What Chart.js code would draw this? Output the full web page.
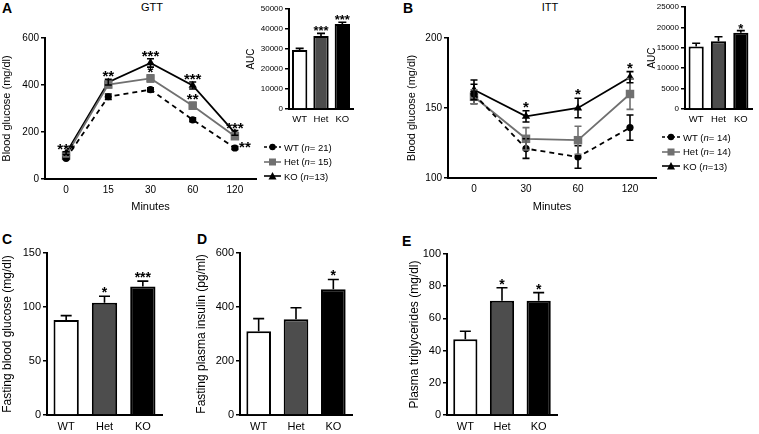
<!DOCTYPE html>
<html>
<head>
<meta charset="utf-8">
<script src="https://cdn.jsdelivr.net/npm/chart.js@4.4.1/dist/chart.umd.min.js"></script>
<style>
  body { margin: 0; background: #fff; width: 759px; height: 434px; position: relative; overflow: hidden;
         font-family: 'Liberation Sans', Arial, Helvetica, sans-serif; color: #000; }
  canvas { position: absolute; }
  .lbl { position: absolute; font-weight: bold; font-size: 14px; line-height: 1; }
  .ttl { position: absolute; font-size: 11px; line-height: 1; transform: translateX(-50%); }
  .leg { position: absolute; font-size: 9.5px; line-height: 1; }
  .leg div { height: 14.5px; display: flex; align-items: center; }
  .leg svg { margin-right: 3px; }
</style>
</head>
<body>
<div class="lbl" style="left:2px;top:1px">A</div>
<div class="lbl" style="left:403px;top:1px">B</div>
<div class="lbl" style="left:2px;top:232px">C</div>
<div class="lbl" style="left:197px;top:232px">D</div>
<div class="lbl" style="left:402px;top:234px">E</div>
<div class="ttl" style="left:152px;top:2px">GTT</div>
<div class="ttl" style="left:550px;top:2px">ITT</div>

<canvas id="gtt" width="262" height="186" style="left:0;top:28px"></canvas>
<canvas id="gttAuc" width="110" height="123" style="left:245px;top:0"></canvas>
<canvas id="itt" width="257" height="186" style="left:405px;top:28px"></canvas>
<canvas id="ittAuc" width="108" height="123" style="left:646px;top:0"></canvas>
<canvas id="glucose" width="164" height="191" style="left:0;top:243px"></canvas>
<canvas id="insulin" width="160" height="191" style="left:194px;top:243px"></canvas>
<canvas id="trig" width="152" height="191" style="left:407px;top:244px"></canvas>

<div class="leg" style="left:264px;top:140px">
  <div><svg width="17" height="8"><line x1="0" y1="4" x2="17" y2="4" stroke="#000" stroke-width="1.6" stroke-dasharray="3,2"/><circle cx="8.5" cy="4" r="3.2" fill="#000"/></svg>WT (<i>n</i> = 21)</div>
  <div><svg width="17" height="8"><line x1="0" y1="4" x2="17" y2="4" stroke="#707070" stroke-width="1.6"/><rect x="5" y="0.5" width="7" height="7" fill="#707070"/></svg>Het (<i>n</i> = 15)</div>
  <div><svg width="17" height="8"><line x1="0" y1="4" x2="17" y2="4" stroke="#000" stroke-width="1.6"/><polygon points="8.5,0 12.5,7.5 4.5,7.5" fill="#000"/></svg>KO (<i>n</i> =13)</div>
</div>
<div class="leg" style="left:662px;top:130px">
  <div><svg width="18" height="8"><line x1="0" y1="4" x2="18" y2="4" stroke="#000" stroke-width="1.6" stroke-dasharray="3,2"/><circle cx="9" cy="4" r="3.2" fill="#000"/></svg>WT (<i>n</i> = 14)</div>
  <div><svg width="18" height="8"><line x1="0" y1="4" x2="18" y2="4" stroke="#707070" stroke-width="1.6"/><rect x="5.5" y="0.5" width="7" height="7" fill="#707070"/></svg>Het (<i>n</i> = 14)</div>
  <div><svg width="18" height="8"><line x1="0" y1="4" x2="18" y2="4" stroke="#000" stroke-width="1.6"/><polygon points="9,0 13,7.5 5,7.5" fill="#000"/></svg>KO (<i>n</i> =13)</div>
</div>

<script>
const FONT = "'Liberation Sans', Arial, Helvetica, sans-serif";
Chart.defaults.font.family = FONT;
Chart.defaults.color = "#000";

// GTT
const gttMinutes = ["0", "15", "30", "60", "120"];
const gttWT = [88, 350, 380, 252, 132];
const gttWTErr = [5, 12, 8, 8, 6];
const gttHet = [100, 402, 428, 312, 182];
const gttHetErr = [6, 14, 15, 14, 10];
const gttKO = [110, 412, 494, 398, 196];
const gttKOErr = [6, 12, 18, 15, 10];
const gttStarsHet = ["", "", "*", "**", "**"];
const gttStarsKO = ["***", "**", "***", "***", "***"];

// ITT
const ittMinutes = ["0", "30", "60", "120"];
const ittWT = [160, 121, 115, 136];
const ittWTErr = [7, 7, 8, 9];
const ittHet = [158, 128, 127, 160];
const ittHetErr = [5, 8, 10, 11];
const ittKO = [163, 144, 150, 172];
const ittKOErr = [7, 4, 7, 4];
const ittStarsKO = ["", "*", "*", "*"];

// bar panels
const groups = ["WT", "Het", "KO"];
const gttAuc = [29500, 36500, 42500];
const gttAucErr = [800, 1300, 900];
const gttAucStars = ["", "***", "***"];
const ittAuc = [15300, 16600, 18700];
const ittAucErr = [800, 1100, 500];
const ittAucStars = ["", "", "*"];
const fastGlucose = [88, 104, 119];
const fastGlucoseErr = [4, 6, 5];
const fastGlucoseStars = ["", "*", "***"];
const fastInsulin = [310, 355, 466];
const fastInsulinErr = [47, 42, 36];
const fastInsulinStars = ["", "", "*"];
const triglycerides = [47, 71, 71];
const triglyceridesErr = [5, 8, 5];
const triglyceridesStars = ["", "*", "*"];

const BAR_COLORS = ["#ffffff", "#4d4d4d", "#000000"];

// error bars + significance stars
const errBars = {
  id: "errs",
  afterDatasetsDraw(chart, args, opts) {
    const ctx = chart.ctx;
    const y = chart.scales.y;
    const isBar = chart.config.type === "bar";
    chart.data.datasets.forEach((ds, di) => {
      if (!ds.errors) return;
      const meta = chart.getDatasetMeta(di);
      meta.data.forEach((el, i) => {
        const v = ds.data[i], e = ds.errors[i];
        const x = el.x;
        const top = y.getPixelForValue(v + e);
        const bot = isBar ? y.getPixelForValue(v) : y.getPixelForValue(v - e);
        ctx.save();
        ctx.strokeStyle = isBar ? "#000" : ds.borderColor;
        ctx.lineWidth = opts.lineWidth || 1.6;
        ctx.beginPath();
        ctx.moveTo(x, top); ctx.lineTo(x, bot);
        ctx.moveTo(x - opts.cap / 2, top); ctx.lineTo(x + opts.cap / 2, top);
        if (!isBar) { ctx.moveTo(x - opts.cap / 2, bot); ctx.lineTo(x + opts.cap / 2, bot); }
        ctx.stroke();
        const s = ds.stars && ds.stars[i];
        if (s) {
          const shift = (opts.shift && opts.shift[di + ":" + i]) || [0, 0];
          ctx.fillStyle = "#000";
          ctx.font = "bold " + opts.starSize + "px " + FONT;
          ctx.textAlign = "center";
          ctx.textBaseline = "alphabetic";
          const m = ctx.measureText(s);
          const base = top - opts.starGap - m.actualBoundingBoxDescent;
          ctx.fillText(s, x + shift[0], base + shift[1]);
        }
        ctx.restore();
      });
    });
  }
};

function scalesFor(o) {
  return {
    x: {
      type: "category", offset: true,
      grid: { display: false, drawTicks: true, tickLength: 3 },
      border: { display: true, color: "#000", width: 2 },
      ticks: { color: "#000", padding: 2, maxRotation: 0, autoSkip: false, font: { size: o.xSize } },
      title: o.xTitle ? { display: true, text: o.xTitle, color: "#000", padding: 0, font: { size: o.titleSize } } : { display: false },
      afterFit: s => { s.height = o.xHeight; }
    },
    y: {
      min: o.min, max: o.max,
      grid: { display: true, drawOnChartArea: false, drawTicks: true, tickLength: 4, color: "#000", lineWidth: 1.5 },
      border: { display: true, color: "#000", width: 2 },
      ticks: { stepSize: o.step, color: "#000", padding: 2, font: { size: o.ySize }, callback: v => v },
      title: { display: true, text: o.yTitle, color: "#000", padding: 0, font: { size: o.titleSize } },
      afterFit: s => { s.width = o.yWidth; }
    }
  };
}

function lineSet(label, data, errors, color, dash, style, radius, stars) {
  return {
    label, data, errors, stars,
    borderColor: color, backgroundColor: color, borderDash: dash, borderWidth: 1.8,
    pointStyle: style, pointRadius: radius, pointBorderWidth: 0, tension: 0, clip: false
  };
}

function lineChart(id, labels, sets, axes, pad, errOpts) {
  return new Chart(document.getElementById(id), {
    type: "line",
    data: { labels, datasets: sets },
    options: {
      responsive: false, animation: false,
      layout: { padding: pad },
      plugins: { legend: { display: false }, tooltip: { enabled: false }, errs: errOpts },
      scales: scalesFor(axes)
    },
    plugins: [errBars]
  });
}

function barChart(id, values, errors, stars, axes, pad, catPct, errOpts) {
  return new Chart(document.getElementById(id), {
    type: "bar",
    data: {
      labels: groups,
      datasets: [{
        data: values, errors, stars,
        backgroundColor: BAR_COLORS, borderColor: "#000", borderWidth: 2,
        barPercentage: 1, categoryPercentage: catPct
      }]
    },
    options: {
      responsive: false, animation: false,
      layout: { padding: pad },
      plugins: { legend: { display: false }, tooltip: { enabled: false }, errs: errOpts },
      scales: scalesFor(axes)
    },
    plugins: [errBars]
  });
}

lineChart("gtt", gttMinutes, [
  lineSet("WT", gttWT, gttWTErr, "#000", [5, 4], "circle", 3.6),
  lineSet("Het", gttHet, gttHetErr, "#707070", [], "rect", 6, gttStarsHet),
  lineSet("KO", gttKO, gttKOErr, "#000", [], "triangle", 4.8, gttStarsKO)
], { min: 0, max: 600, step: 200, yTitle: "Blood glucose (mg/dl)", xTitle: "Minutes",
     yWidth: 45, xHeight: 35, xSize: 10, ySize: 10, titleSize: 11 },
   { top: 10, right: 4 }, { cap: 7, starSize: 15, starGap: 2, shift: { "1:4": [10, 16] } });

barChart("gttAuc", gttAuc, gttAucErr, gttAucStars,
  { min: 0, max: 50000, step: 10000, yTitle: "AUC", yWidth: 44, xHeight: 14, xSize: 9.5, ySize: 8, titleSize: 10 },
  { top: 9, right: 2 }, 0.72, { cap: 8, starSize: 13, starGap: 2 });

lineChart("itt", ittMinutes, [
  lineSet("WT", ittWT, ittWTErr, "#000", [5, 4], "circle", 3.6),
  lineSet("Het", ittHet, ittHetErr, "#707070", [], "rect", 6),
  lineSet("KO", ittKO, ittKOErr, "#000", [], "triangle", 4.8, ittStarsKO)
], { min: 100, max: 200, step: 50, yTitle: "Blood glucose (mg/dl)", xTitle: "Minutes",
     yWidth: 43, xHeight: 36, xSize: 10, ySize: 10, titleSize: 11 },
   { top: 10, right: 2 }, { cap: 7, starSize: 15, starGap: 3 });

barChart("ittAuc", ittAuc, ittAucErr, ittAucStars,
  { min: 0, max: 25000, step: 5000, yTitle: "AUC", yWidth: 39, xHeight: 14, xSize: 9.5, ySize: 8, titleSize: 10 },
  { top: 7, right: 2 }, 0.68, { cap: 8, starSize: 13, starGap: 2 });

barChart("glucose", fastGlucose, fastGlucoseErr, fastGlucoseStars,
  { min: 0, max: 150, step: 50, yTitle: "Fasting blood glucose (mg/dl)", yWidth: 47, xHeight: 19, xSize: 11, ySize: 11, titleSize: 12 },
  { top: 10, right: 2 }, 0.66, { cap: 11, starSize: 14, starGap: 3 });

barChart("insulin", fastInsulin, fastInsulinErr, fastInsulinStars,
  { min: 0, max: 600, step: 200, yTitle: "Fasting plasma insulin (pg/ml)", yWidth: 46, xHeight: 19, xSize: 11, ySize: 11, titleSize: 12 },
  { top: 10, right: 2 }, 0.66, { cap: 11, starSize: 14, starGap: 3 });

barChart("trig", triglycerides, triglyceridesErr, triglyceridesStars,
  { min: 0, max: 100, step: 20, yTitle: "Plasma triglycerides (mg/dl)", yWidth: 40, xHeight: 20, xSize: 11, ySize: 11, titleSize: 12 },
  { top: 10, right: 2 }, 0.66, { cap: 11, starSize: 14, starGap: 3 });
</script>
</body>
</html>
